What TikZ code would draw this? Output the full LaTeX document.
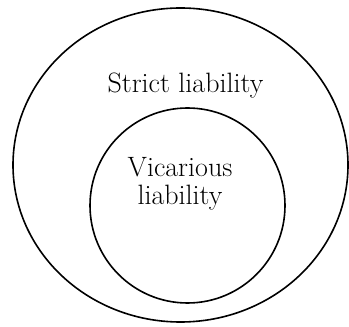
\documentclass[tikz,border=0pt]{standalone}
\usepackage{tikz}
\usetikzlibrary{shapes.geometric}

\begin{document}
\begin{tikzpicture}[x=1pt, y=1pt, set/.style={draw, line width=1.6pt, inner sep=0pt}, lbl/.style={font=\fontsize{28}{28}\selectfont, align=center, inner sep=0pt}]
        \useasboundingbox (0,0) rectangle (349,327);
        \node[set, ellipse, minimum width=335pt, minimum height=314pt] (strict) at (180.5,162) {};
        \node[set, circle, minimum size=195pt] (vicarious) at (187.5,121.5) {};

        \node[lbl, anchor=base] (strictlbl) at (185.5,234) {Strict liability};
        \node[lbl] (vicariouslbl) at (180,143) {Vicarious\\liability};
    \end{tikzpicture}
\end{document}
